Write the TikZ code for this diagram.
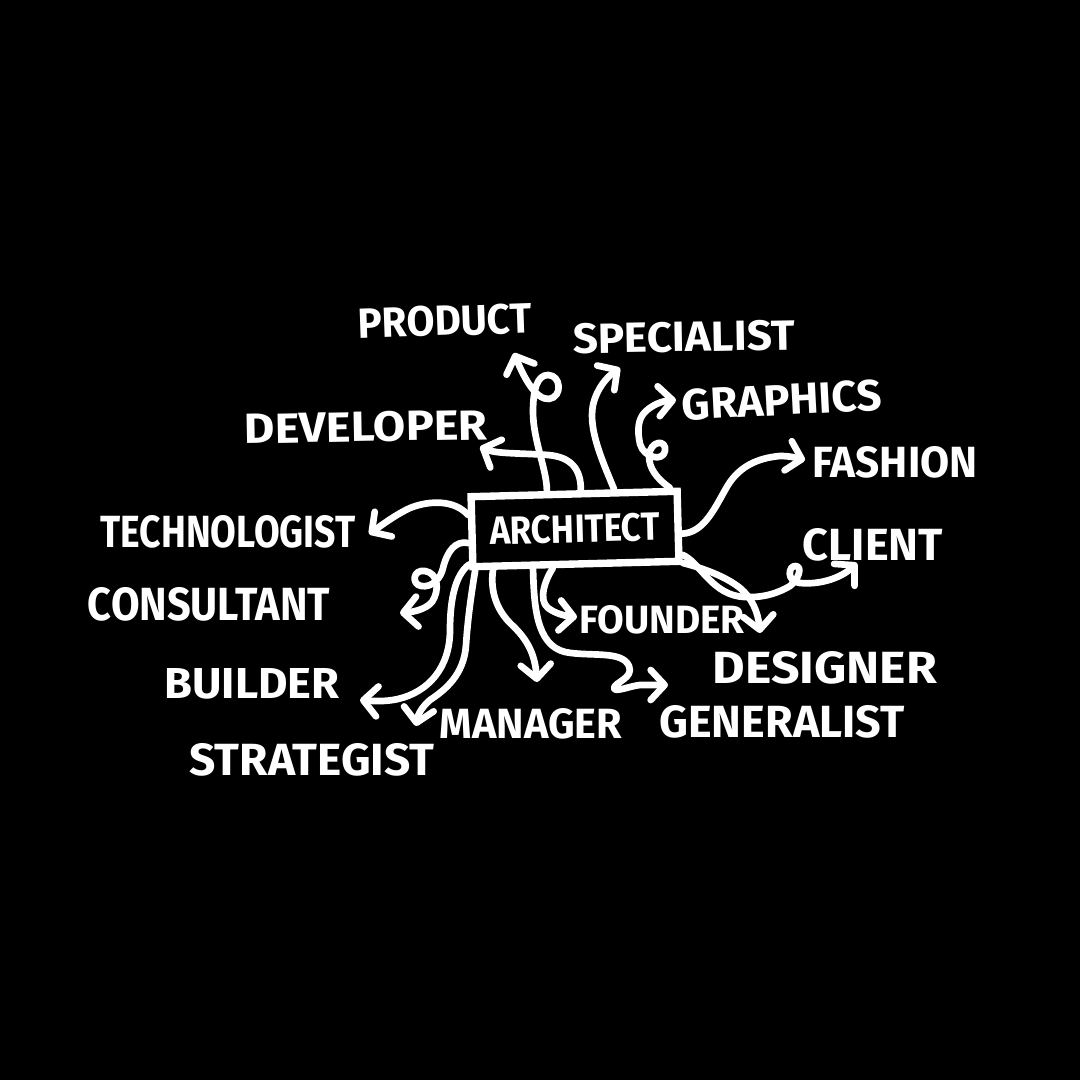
\documentclass[tikz,border=0pt]{standalone}
\usepackage{fontspec}
\setmainfont{Fira Sans}
\usetikzlibrary{arrows.meta}
\newcommand\fitlab[3]{\resizebox{#1cm}{#2cm}{\bfseries #3}}
\tikzset{
  lab/.style={text=white, inner sep=0pt, anchor=center},
  conn/.style={draw=white, line width=1.9pt, line cap=round, line join=round,
    -{Straight Barb[length=1.4mm,width=3.0mm,round]}},
  archbox/.style={draw=white, line width=2.1pt, minimum width=2.06cm,
    minimum height=0.70cm, inner sep=0pt, rotate=1.5, text=white}
}
\begin{document}
\begin{tikzpicture}[x=0.01cm,y=-0.01cm]
\fill[black] (0,0) rectangle (1080,1080);
\useasboundingbox (0,0) rectangle (1080,1080);

% central box
\node[archbox] (arch) at (575,529) {\fitlab{1.70}{0.28}{ARCHITECT}};

% labels
\node[lab, rotate=2] (product) at (445,321) {\fitlab{1.74}{0.30}{PRODUCT}};
\node[lab, rotate=1] (specialist) at (684,337) {\fitlab{2.22}{0.30}{SPECIALIST}};
\node[lab, rotate=3] (graphics) at (782,400) {\fitlab{2.00}{0.31}{GRAPHICS}};
\node[lab, rotate=1] (developer) at (366,427) {\fitlab{2.43}{0.30}{DEVELOPER}};
\node[lab] (fashion) at (895,462) {\fitlab{1.65}{0.31}{FASHION}};
\node[lab] (technologist) at (228,532) {\fitlab{2.55}{0.32}{TECHNOLOGIST}};
\node[lab] (client) at (873,545) {\fitlab{1.40}{0.32}{CLIENT}};
\node[lab] (consultant) at (209,604) {\fitlab{2.42}{0.33}{CONSULTANT}};
\node[lab] (founder) at (662,620) {\fitlab{1.65}{0.28}{FOUNDER}};
\node[lab] (designer) at (825,668) {\fitlab{2.24}{0.32}{DESIGNER}};
\node[lab] (builder) at (252,684) {\fitlab{1.75}{0.30}{BUILDER}};
\node[lab] (manager) at (531,724) {\fitlab{1.82}{0.30}{MANAGER}};
\node[lab] (generalist) at (782,722) {\fitlab{2.45}{0.32}{GENERALIST}};
\node[lab] (strategist) at (312,760) {\fitlab{2.45}{0.32}{STRATEGIST}};

% arrow tips
\coordinate (tP) at (514,353);
\coordinate (tD) at (480,447);
\coordinate (tS) at (620,368);
\coordinate (tG) at (676,400);
\coordinate (tF) at (805,460);
\coordinate (tC) at (857,563);
\coordinate (tDe) at (760,633);
\coordinate (tFo) at (577,617);
\coordinate (tGe) at (668,685);
\coordinate (tM) at (537,682);
\coordinate (tSt) at (416,726);
\coordinate (tB) at (360,700);
\coordinate (tCo) at (400,613);
\coordinate (tT) at (369,534);

% connectors
\draw[conn] (arch.125) .. controls (547,470) and (533,440) .. (533,412)
  .. controls (533,390) and (537,375) .. (548,375)
  .. controls (561,375) and (563,397) .. (549,399)
  .. controls (536,400) and (524,378) .. (tP);
\draw[conn] (arch.80) .. controls (581,470) and (572,457) .. (548,455)
  .. controls (520,453) and (497,454) .. (tD);
\draw[conn] (arch.44) .. controls (603,462) and (588,430) .. (593,405)
  .. controls (597,388) and (607,377) .. (tS);
\draw[conn] (arch.22) .. controls (656,478) and (649,468) .. (649,456)
  .. controls (650,440) and (667,439) .. (665,451)
  .. controls (663,462) and (644,458) .. (640,444)
  .. controls (637,430) and (638,419) .. (645,412)
  .. controls (652,405) and (662,401) .. (tG);
\draw[conn] (arch.-4) .. controls (705,533) and (716,505) .. (728,485)
  .. controls (740,466) and (758,458) .. (780,456)
  .. controls (790,456) and (797,458) .. (tF);
\draw[conn] (arch.-15) .. controls (700,562) and (712,596) .. (745,597)
  .. controls (765,598) and (780,592) .. (790,586)
  .. controls (798,580) and (803,567) .. (796,566)
  .. controls (788,565) and (786,582) .. (800,583)
  .. controls (822,585) and (842,577) .. (tC);
\draw[conn] (arch.-19) .. controls (702,568) and (725,576) .. (740,588)
  .. controls (752,598) and (758,612) .. (tDe);
\draw[conn] (arch.-121) .. controls (545,580) and (538,600) .. (548,608)
  .. controls (556,614) and (566,616) .. (tFo);
\draw[conn] (arch.-138) .. controls (534,605) and (536,645) .. (565,652)
  .. controls (590,657) and (622,650) .. (629,666)
  .. controls (634,678) and (615,682) .. (614,688)
  .. controls (614,693) and (630,686) .. (640,685) -- (tGe);
\draw[conn] (arch.-155) .. controls (490,590) and (496,610) .. (512,625)
  .. controls (528,640) and (535,655) .. (tM);
\draw[conn] (arch.-159) .. controls (472,590) and (468,615) .. (466,645)
  .. controls (464,675) and (445,690) .. (430,700)
  .. controls (422,707) and (418,714) .. (tSt);
\draw[conn] (arch.-163) .. controls (455,575) and (450,600) .. (450,630)
  .. controls (450,668) and (428,692) .. (398,699)
  .. controls (385,702) and (372,701) .. (tB);
\draw[conn] (arch.-174) .. controls (455,540) and (447,552) .. (443,568)
  .. controls (441,578) and (432,588) .. (421,586)
  .. controls (411,584) and (413,569) .. (425,571)
  .. controls (438,573) and (440,590) .. (432,602)
  .. controls (425,610) and (412,612) .. (tCo);
\draw[conn] (arch.171) .. controls (455,500) and (430,500) .. (410,508)
  .. controls (395,515) and (382,525) .. (tT);
\end{tikzpicture}
\end{document}
